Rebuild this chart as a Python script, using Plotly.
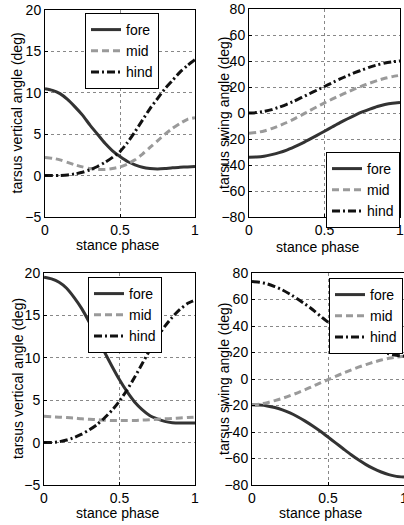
import plotly.graph_objects as go

W, H = 404, 525

phase = [0, .05, .1, .15, .2, .25, .3, .35, .4, .45, .5, .55, .6, .65, .7, .75, .8, .85, .9, .95, 1]

# Panel 1: tarsus vertical angle (top-left)
p1_fore = [10.5, 10.3, 9.9, 9.2, 8.3, 7.3, 6.1, 5.0, 3.9, 3.0, 2.3, 1.7, 1.3, 1.0, 0.85, 0.8, 0.85, 0.95, 1.0, 1.05, 1.1]
p1_mid = [2.2, 2.1, 1.9, 1.6, 1.3, 1.05, 0.85, 0.75, 0.75, 0.85, 1.05, 1.4, 1.9, 2.6, 3.4, 4.2, 5.0, 5.7, 6.3, 6.8, 7.0]
p1_hind = [0, 0, 0.02, 0.08, 0.2, 0.4, 0.7, 1.1, 1.6, 2.2, 2.9, 4.0, 5.3, 6.7, 8.1, 9.3, 10.5, 11.5, 12.5, 13.3, 14.0]

# Panel 2: tarsus swing angle (top-right)
p2_fore = [-34, -33.8, -33.2, -32, -30.5, -28.5, -26, -23.3, -20.3, -17.2, -14, -10.8, -7.6, -4.6, -1.8, 0.8, 3.0, 5.0, 6.5, 7.5, 8.0]
p2_mid = [-15.5, -15, -13.8, -12, -9.8, -7.3, -4.5, -1.5, 1.7, 4.8, 7.8, 10.6, 13.4, 16, 18.5, 20.8, 23, 25, 26.7, 28, 29]
p2_hind = [0, 0.3, 1.2, 2.6, 4.5, 6.7, 9.2, 12, 14.8, 17.6, 20.4, 23.2, 26, 28.6, 31, 33.2, 35.3, 37, 38.4, 39.4, 40]

# Panel 3: tarsus vertical angle (bottom-left)
p3_fore = [19.5, 19.3, 18.9, 18.2, 17.1, 15.8, 14.2, 12.5, 10.7, 9.0, 7.4, 6.0, 4.8, 3.9, 3.2, 2.8, 2.5, 2.35, 2.3, 2.3, 2.3]
p3_mid = [3.1, 3.05, 3.0, 2.95, 2.9, 2.8, 2.75, 2.7, 2.65, 2.6, 2.6, 2.6, 2.6, 2.65, 2.7, 2.75, 2.8, 2.85, 2.9, 2.95, 3.0]
p3_hind = [0, 0.02, 0.1, 0.3, 0.6, 1.0, 1.5, 2.1, 2.9, 3.8, 4.9, 6.2, 7.7, 9.3, 10.9, 12.4, 13.7, 14.8, 15.7, 16.4, 16.8]

# Panel 4: tarsus swing angle (bottom-right)
p4_fore = [-19.5, -19.7, -20.3, -21.5, -23.3, -25.6, -28.5, -31.8, -35.5, -39.5, -43.8, -48.2, -52.6, -57, -61, -64.6, -67.7, -70.2, -72.2, -73.5, -74]
p4_mid = [-19.5, -19, -17.8, -16.3, -14.6, -12.6, -10.4, -8.0, -5.5, -3.0, -0.5, 2.0, 4.4, 6.7, 8.9, 10.9, 12.7, 14.3, 15.6, 16.6, 17.2]
p4_hind = [73.5, 73, 71.8, 69.8, 67.2, 64, 60.4, 56.5, 52.3, 47.5, 43.0, 39.0, 35.2, 31.6, 28.4, 25.5, 23, 20.8, 19.1, 17.9, 17.2]

series_names = ["fore", "mid", "hind"]
x_ticks = [0, 0.5, 1]
x_ticklabels = ["0", "0.5", "1"]
vert_ticks = [-5, 0, 5, 10, 15, 20]
swing_ticks = [-80, -60, -40, -20, 0, 20, 40, 60, 80]
vert_title = "tarsus vertical angle (deg)"
swing_title = "tarsus swing angle (deg)"
x_title = "stance phase"

FONT = "Liberation Sans, Arial, sans-serif"
styles = {
    "fore": dict(color="#333333", width=3, dash="solid"),
    "mid": dict(color="#9a9a9a", width=3, dash="7px,4px"),
    "hind": dict(color="#111111", width=3, dash="8px,3px,2px,3px"),
}

def px_x(p):
    return p / W

def px_y(p):
    return 1 - p / H

panels = [
    dict(data=[p1_fore, p1_mid, p1_hind], dom=(45, 195, 10, 217), yt=vert_ticks,
         ytitle=vert_title, leg=(85, 13, "left"), ytx=17, xty=245, xtx=118),
    dict(data=[p2_fore, p2_mid, p2_hind], dom=(249, 400, 9, 217), yt=swing_ticks,
         ytitle=swing_title, leg=(400, 152, "right"), ytx=224, xty=247, xtx=317),
    dict(data=[p3_fore, p3_mid, p3_hind], dom=(44, 195, 273, 485), yt=vert_ticks,
         ytitle=vert_title, leg=(88, 277, "left"), ytx=18, xty=513, xtx=118),
    dict(data=[p4_fore, p4_mid, p4_hind], dom=(252, 404, 273, 485), yt=swing_ticks,
         ytitle=swing_title, leg=(403, 278, "right"), ytx=224, xty=513, xtx=320),
]

fig = go.Figure()
annotations = []
layout = {}
for i, p in enumerate(panels, start=1):
    sfx = "" if i == 1 else str(i)
    legname = "legend" if i == 1 else f"legend{i}"
    for name, ys in zip(series_names, p["data"]):
        st = styles[name]
        fig.add_trace(go.Scatter(
            x=phase, y=ys, mode="lines", name=name,
            line=dict(color=st["color"], width=st["width"], dash=st["dash"], shape="spline", smoothing=0.6),
            xaxis="x" + sfx, yaxis="y" + sfx, legend=legname, showlegend=True,
        ))
    x0, x1, yt, yb = p["dom"]
    layout["xaxis" + sfx] = dict(
        domain=[px_x(x0), min(1, px_x(x1))], anchor="y" + sfx, range=[0, 1],
        tickvals=x_ticks, ticktext=x_ticklabels, showgrid=True, gridcolor="#888888",
        griddash="dot", gridwidth=1, showline=True, linecolor="black", linewidth=1,
        mirror=True, ticks="inside", ticklen=3, tickcolor="black", zeroline=False,
        automargin=False, ticklabeloverflow="allow",
        tickfont=dict(family=FONT, size=14, color="black"),
    )
    layout["yaxis" + sfx] = dict(
        domain=[px_y(yb), px_y(yt)], anchor="x" + sfx,
        range=[p["yt"][0], p["yt"][-1]], tickvals=p["yt"],
        showgrid=True, gridcolor="#888888", griddash="dot", gridwidth=1,
        showline=True, linecolor="black", linewidth=1, mirror=True,
        ticks="inside", ticklen=3, tickcolor="black", zeroline=False,
        automargin=False, ticklabeloverflow="allow",
        tickfont=dict(family=FONT, size=14, color="black"),
    )
    lx, ly, lanchor = p["leg"]
    layout[legname] = dict(
        x=px_x(lx), y=px_y(ly), xanchor=lanchor, yanchor="top",
        bgcolor="white", bordercolor="black", borderwidth=1,
        font=dict(family=FONT, size=14, color="black"),
        itemwidth=30, tracegroupgap=0,
    )
    annotations.append(dict(
        text=p["ytitle"], x=px_x(p["ytx"]), y=px_y((yt + yb) / 2),
        xref="paper", yref="paper", showarrow=False, textangle=-90,
        xanchor="center", yanchor="middle",
        font=dict(family=FONT, size=14, color="black"),
    ))
    annotations.append(dict(
        text=x_title, x=px_x(p["xtx"]), y=px_y(p["xty"]),
        xref="paper", yref="paper", showarrow=False,
        xanchor="center", yanchor="middle",
        font=dict(family=FONT, size=14, color="black"),
    ))

fig.update_layout(
    width=W, height=H, margin=dict(l=0, r=0, t=0, b=0, autoexpand=False),
    paper_bgcolor="white", plot_bgcolor="white",
    annotations=annotations, **layout,
)

fig.write_html(
    "out.html",
    config={"displayModeBar": False},
    post_script="document.body.style.margin='0';document.body.style.overflow='hidden';",
)
